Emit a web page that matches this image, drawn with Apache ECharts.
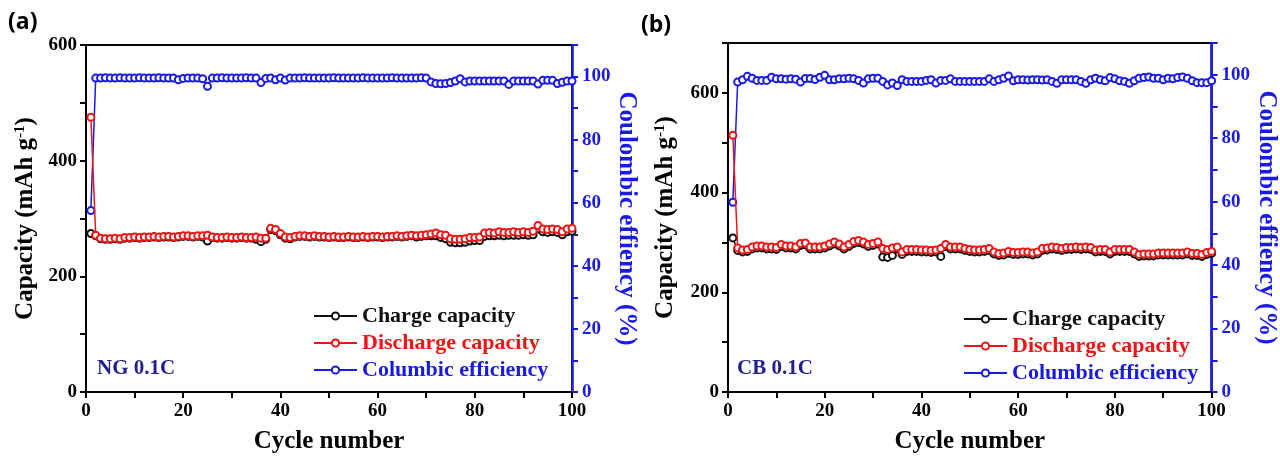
<!DOCTYPE html>
<html>
<head>
<meta charset="utf-8">
<script src="https://cdn.jsdelivr.net/npm/echarts@6/dist/echarts.min.js"></script>
<style>
html,body{margin:0;padding:0;background:#fff;}
#chart{width:1280px;height:459px;}
</style>
</head>
<body>
<div id="chart"></div>
<script>
// ---------- DATA ----------
const cycles = [1,2,3,4,5,6,7,8,9,10,11,12,13,14,15,16,17,18,19,20,21,22,23,24,25,26,27,28,29,30,31,32,33,34,35,36,37,38,39,40,41,42,43,44,45,46,47,48,49,50,51,52,53,54,55,56,57,58,59,60,61,62,63,64,65,66,67,68,69,70,71,72,73,74,75,76,77,78,79,80,81,82,83,84,85,86,87,88,89,90,91,92,93,94,95,96,97,98,99,100];
const seriesNames = ['Charge capacity','Discharge capacity','Columbic efficiency'];
const xTickLabels = [0,20,40,60,80,100];

// Panel (a) NG 0.1C
const ngCharge = [274,270,265,264,264,265,264,266,266,267,266,267,267,268,267,268,268,267,268,269,269,268,269,268,261,267,266,266,267,266,266,267,266,266,264,260,264,281,279,272,266,265,268,269,269,268,269,268,268,267,268,267,267,268,267,267,268,267,268,268,267,268,268,269,268,269,270,268,269,270,270,270,267,265,259,258,258,259,261,262,262,269,270,270,271,270,271,271,271,272,271,272,282,277,276,277,276,272,277,278];
const ngDischarge = [475,271,266,265,265,266,265,267,267,268,267,268,268,269,268,269,269,268,269,270,270,269,270,270,271,268,267,267,268,267,267,268,267,267,268,266,266,283,281,274,268,267,269,270,270,269,270,269,269,268,269,268,268,269,268,268,269,268,269,269,268,269,269,270,269,270,271,270,271,272,273,275,272,271,265,264,264,265,267,267,268,275,276,275,277,276,276,277,276,277,276,278,288,282,281,282,281,277,282,283];
const ngEff = [57.5,99.5,99.5,99.6,99.5,99.5,99.6,99.5,99.5,99.5,99.6,99.5,99.5,99.5,99.6,99.5,99.5,99.5,99.0,99.4,99.5,99.5,99.5,99.3,96.9,99.5,99.5,99.6,99.5,99.5,99.5,99.5,99.6,99.5,99.5,98.1,99.4,99.5,99.0,99.5,98.9,99.5,99.5,99.5,99.6,99.5,99.5,99.5,99.5,99.5,99.6,99.5,99.5,99.5,99.5,99.5,99.6,99.5,99.5,99.5,99.5,99.5,99.6,99.5,99.5,99.5,99.5,99.5,99.6,99.5,98.3,97.8,97.7,97.8,98.1,98.6,99.3,98.3,98.6,98.6,98.6,98.6,98.6,98.6,98.6,98.6,97.5,98.6,98.6,98.6,98.6,98.6,97.6,98.8,98.8,98.8,97.8,98.2,98.6,98.6];

// Panel (b) CB 0.1C
const cbCharge = [309,284,281,282,287,289,289,287,287,286,292,289,289,287,294,295,287,287,287,289,293,297,293,287,292,298,300,297,292,294,297,271,270,274,287,276,282,282,282,281,281,280,281,272,292,287,287,287,284,282,281,281,282,284,277,274,275,278,276,276,277,277,275,277,284,285,287,286,284,286,286,287,286,287,286,281,282,282,277,282,282,282,282,277,272,273,273,273,275,275,275,275,275,275,277,274,274,272,276,278];
const cbDischarge = [515,289,285,286,291,293,293,291,291,290,296,293,293,291,298,299,291,291,291,293,297,301,297,291,296,302,304,301,296,298,301,288,286,289,291,281,286,286,286,285,285,284,285,288,296,291,291,291,288,286,285,285,286,288,281,278,279,282,280,280,281,281,279,281,288,289,291,290,288,290,290,291,290,291,290,285,286,286,281,286,286,286,286,281,276,277,277,277,279,279,279,279,279,279,281,278,278,276,280,282];
const cbEff = [59.8,97.7,98.4,99.5,98.9,98.2,98.2,98.2,99.2,98.7,98.7,98.6,98.7,98.6,97.7,98.8,98.8,98.5,99.2,99.8,98.4,98.4,98.7,98.7,98.9,98.7,98.2,97.4,98.7,98.9,98.9,97.9,96.8,97.4,96.6,98.4,97.9,97.9,97.9,97.9,98.2,98.4,97.4,98.2,98.2,98.7,97.9,97.9,97.9,97.9,97.9,97.9,97.9,98.7,97.9,98.4,98.9,99.6,98.1,98.4,98.4,98.3,98.4,98.4,98.3,98.4,97.9,97.3,98.4,98.4,98.4,98.4,97.9,97.3,98.4,98.9,98.4,98.1,99.1,98.7,98.1,97.9,97.3,98.1,98.9,99.1,99.3,98.9,98.9,98.4,98.9,98.7,99.1,99.3,98.9,98.1,97.5,97.5,97.5,98.1];

// ---------- STYLE ----------
const SERIF = '"Liberation Serif","Times New Roman",serif';
const BLACK = '#111111', RED = '#f01414', BLUE = '#1a1ae6', NAVY = '#1f1f8f';
const colors = [BLACK, RED, BLUE];

function pair(y){ return cycles.map((c,i)=>[c,y[i]]); }

const chart = echarts.init(document.getElementById('chart'));

const tickFont = {fontFamily: SERIF, fontWeight: 'bold', fontSize: 19};
const nameFont = {fontFamily: SERIF, fontWeight: 'bold', fontSize: 25};

function xAxisCfg(gi){
  return {
    type:'value', gridIndex: gi, min:0, max:100, interval:10,
    name:'Cycle number', nameLocation:'middle', nameGap:37,
    nameTextStyle: Object.assign({color:'#000'}, nameFont),
    axisLine:{lineStyle:{color:'#000', width:2}},
    axisTick:{length:6, lineStyle:{color:'#000', width:2}},
    axisLabel: Object.assign({color:'#000', margin:10,
      formatter: v => xTickLabels.includes(v) ? String(v) : ''}, tickFont),
    splitLine:{show:false}
  };
}
function leftAxisCfg(gi, max, gap){
  return {
    type:'value', gridIndex: gi, position:'left', min:0, max:max, interval:100,
    name:'{t|Capacity (mAh g}{s|-1}{t|)}', nameLocation:'middle', nameGap:gap, nameRotate:90,
    nameTextStyle:{color:'#000', rich:{
      t:Object.assign({color:'#000', lineHeight:26}, nameFont),
      s:{fontFamily:SERIF, fontWeight:'bold', fontSize:15, color:'#000', verticalAlign:'top', lineHeight:15}
    }},
    axisLine:{show:true, lineStyle:{color:'#000', width:2}},
    axisTick:{show:true, length:6, lineStyle:{color:'#000', width:2}},
    axisLabel: Object.assign({color:'#000', margin:9,
      formatter: v => (v % 200 === 0) ? String(v) : ''}, tickFont),
    splitLine:{show:false}
  };
}
function rightAxisCfg(gi, gap){
  return {
    type:'value', gridIndex: gi, position:'right', min:0, max:110, interval:10,
    name:'Coulombic effiency (%)', nameLocation:'middle', nameGap:gap, nameRotate:-90,
    nameTextStyle: Object.assign({color:BLUE}, nameFont),
    axisLine:{show:true, lineStyle:{color:BLUE, width:2.5}},
    axisTick:{show:true, length:6, lineStyle:{color:BLUE, width:2}},
    axisLabel: Object.assign({color:BLUE, margin:10,
      formatter: v => (v % 20 === 0 && v <= 100) ? String(v) : ''}, tickFont),
    splitLine:{show:false}
  };
}
function lineSeries(name, color, xi, yi, data){
  return {
    name, type:'line', xAxisIndex:xi, yAxisIndex:yi, data: pair(data),
    symbol:'emptyCircle', symbolSize:7, showSymbol:true,
    lineStyle:{color, width:1.5}, itemStyle:{color, borderColor:color, borderWidth:2},
    animation:false, z: name==='Discharge capacity' ? 4 : 3
  };
}
function legendCfg(left, top){
  return {
    orient:'vertical', left, top, itemWidth:43, itemHeight:9, itemGap:5,
    textStyle:{fontFamily:SERIF, fontWeight:'bold', fontSize:22},
    data: seriesNames.map((n,i)=>({name:n, textStyle:{color:colors[i]}})),
    selectedMode:false
  };
}

chart.setOption({
  backgroundColor:'#ffffff',
  animation:false,
  grid:[
    {left:86, right:708, top:45, bottom:66, show:true, borderColor:'#000', borderWidth:2},
    {left:728, right:65, top:43, bottom:67, show:true, borderColor:'#000', borderWidth:2}
  ],
  xAxis:[xAxisCfg(0), xAxisCfg(1)],
  yAxis:[leftAxisCfg(0,600,47), rightAxisCfg(0,40), leftAxisCfg(1,700,49), rightAxisCfg(1,42)],
  legend:[legendCfg(308,300), legendCfg(958,303)],
  series:[
    lineSeries(seriesNames[0], BLACK, 0, 0, ngCharge),
    lineSeries(seriesNames[1], RED, 0, 0, ngDischarge),
    lineSeries(seriesNames[2], BLUE, 0, 1, ngEff),
    lineSeries(seriesNames[0], BLACK, 1, 2, cbCharge),
    lineSeries(seriesNames[1], RED, 1, 2, cbDischarge),
    lineSeries(seriesNames[2], BLUE, 1, 3, cbEff)
  ],
  graphic:[
    {type:'text', left:8, top:11, style:{text:'(a)', font:'bold 23px "Open Sans", "Liberation Sans", sans-serif', fill:'#000'}},
    {type:'text', left:641, top:14, style:{text:'(b)', font:'bold 23px "Open Sans", "Liberation Sans", sans-serif', fill:'#000'}},
    {type:'text', left:97, top:358, style:{text:'NG 0.1C', font:'bold 21px "Liberation Serif", serif', fill:NAVY}},
    {type:'text', left:737, top:358, style:{text:'CB 0.1C', font:'bold 21px "Liberation Serif", serif', fill:NAVY}}
  ]
});
</script>
</body>
</html>
